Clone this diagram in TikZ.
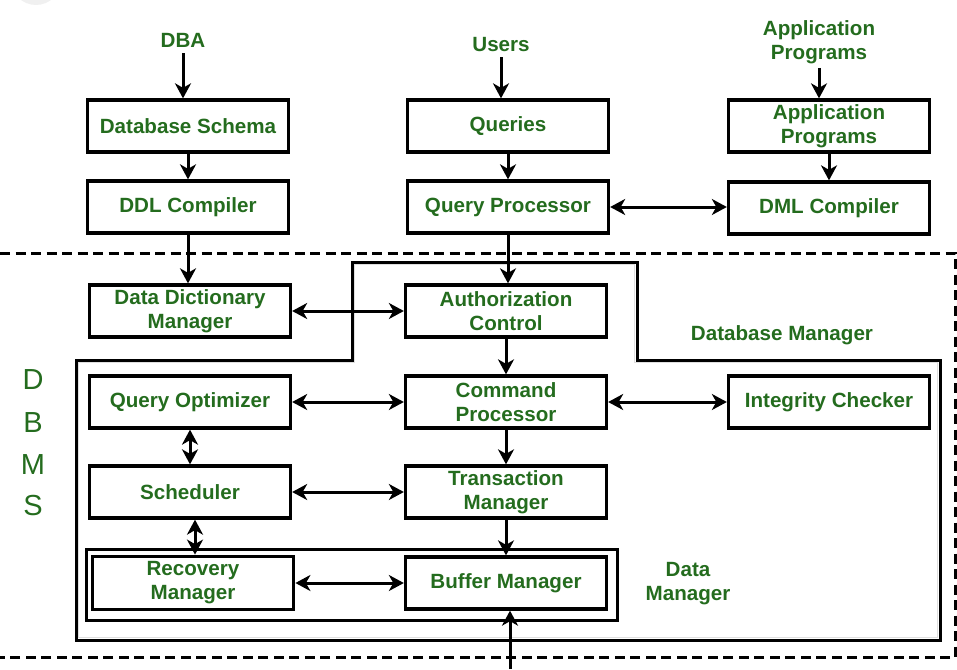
\documentclass[tikz,border=0pt]{standalone}
\usepackage{fontspec}
\setmainfont{Liberation Sans}
\usetikzlibrary{arrows.meta}
\definecolor{lblgreen}{RGB}{36,108,30}
\begin{document}
\begin{tikzpicture}[x=1pt,y=-1pt,
  box/.style={draw=black,line width=3.3pt,minimum width=201pt,minimum height=52pt,inner sep=2pt,
    align=center,text=lblgreen,font=\fontsize{20.6}{24}\selectfont\bfseries},
  lbl/.style={text=lblgreen,align=center,font=\fontsize{20.6}{24}\selectfont\bfseries,inner sep=0pt},
  big/.style={text=lblgreen,font=\fontsize{29}{30}\selectfont,inner sep=0pt},
  tip/.tip={Stealth[length=15pt,width=16pt,inset=4.5pt]},
  conn/.style={line width=3pt,-tip},
  dconn/.style={line width=3pt,tip-tip},
  dashline/.style={line width=3pt,dash pattern=on 10pt off 5.5pt}]
\useasboundingbox (0,0) rectangle (957,669);
\fill[gray!12] (36,-20) circle (25);

% dashed DBMS boundary
\draw[dashline] (0,253) -- (955,253) -- (955,657) -- (0,657);

% Database manager outline
\draw[gray!25,line width=1.2pt] (78.5,362.5) -- (354.5,362.5) -- (354.5,264.5) -- (634.5,264.5) -- (634.5,362.5) -- (937.5,362.5) -- (937.5,637.5) -- (78.5,637.5) -- cycle;
\draw[line width=3pt] (76,360) -- (352,360) -- (352,262) -- (637,262) -- (637,360) -- (940,360) -- (940,640) -- (76,640) -- cycle;

% Data manager box
\draw[line width=3pt] (86,549) rectangle (617,620);

% top labels
\node[lbl] (dba) at (183,40) {DBA};
\node[lbl] (users) at (501,45) {Users};
\node[lbl] (apptxt) at (819,42) {Application\\Programs};

% boxes
\node[box] (schema) at (188,126) {Database Schema};
\node[box] (ddl) at (188,207) {DDL Compiler};
\node[box] (queries) at (508,126) {Queries};
\node[box] (qp) at (508,207) {Query Processor};
\node[box] (app) at (829,126) {Application\\Programs};
\node[box] (dml) at (829,208) {DML Compiler};

\node[box] (ddm) at (190,311) {Data Dictionary\\Manager};
\node[box] (auth) at (506,311) {Authorization\\Control};
\node[box] (qo) at (190,402) {Query Optimizer};
\node[box] (cp) at (506,402) {Command\\Processor};
\node[box] (ic) at (829,402) {Integrity Checker};
\node[box] (sch) at (190,492) {Scheduler};
\node[box] (tm) at (506,492) {Transaction\\Manager};
\node[box,minimum height=53pt,line width=3.8pt] (rm) at (193,583) {Recovery\\Manager};
\node[box] (bm) at (506,583) {Buffer Manager};

\node[lbl] (dbmlbl) at (782,335) {Database Manager};
\node[lbl] (dmlbl) at (688,584) {Data\\Manager};

\node[big] (d1) at (33,380) {D};
\node[big] (d2) at (33,423) {B};
\node[big] (d3) at (33,465) {M};
\node[big] (d4) at (33,506) {S};

\coordinate (ext) at (510,669);

% connectors
\draw[conn] (dba.south) ++(0,6) -- (dba |- schema.north);
\draw[conn] (schema) -- (ddl);
\draw[conn] (ddl.south) -- (ddm.north -| ddl.south);
\draw[conn] (users.south) ++(0,5) -- (users |- queries.north);
\draw[conn] (queries) -- (qp);
\draw[conn] (qp.south) -- (auth.north -| qp.south);
\draw[conn] (apptxt.south) ++(0,4) -- (apptxt |- app.north);
\draw[conn] (app) -- (dml);
\draw[dconn] (qp.east) -- (dml.west |- qp.east);
\draw[dconn] (ddm) -- (auth);
\draw[conn] (auth) -- (cp);
\draw[dconn] (qo) -- (cp);
\draw[dconn] (cp) -- (ic);
\draw[conn] (cp) -- (tm);
\draw[conn] (tm) -- (bm);
\draw[dconn] (qo) -- (sch);
\draw[dconn] ([xshift=5pt]sch.south) -- ([xshift=2pt]rm.north);
\draw[dconn] (sch) -- (tm);
\draw[dconn] (rm) -- (bm);
\draw[conn] (ext) -- (ext |- bm.south);
\end{tikzpicture}
\end{document}
